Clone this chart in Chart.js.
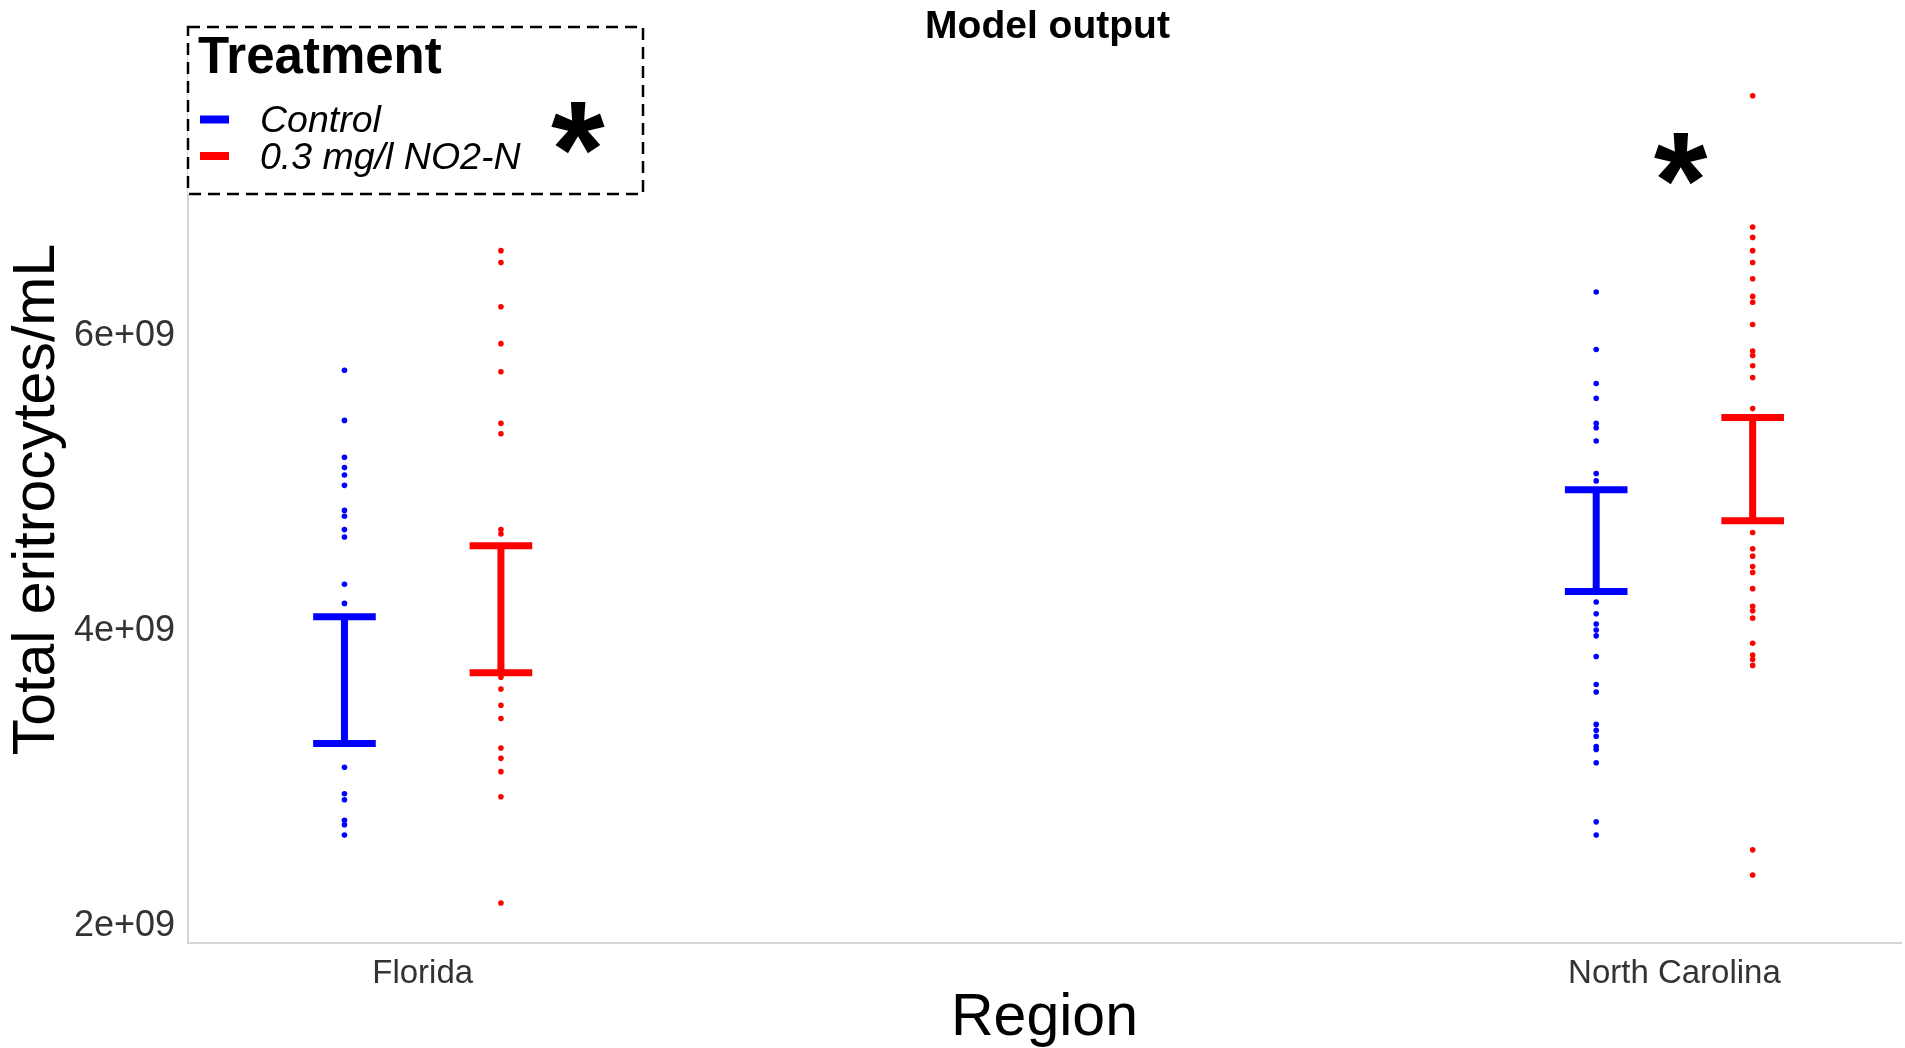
<!DOCTYPE html>
<html>
<head>
<meta charset="utf-8">
<title>Model output</title>
<script src="https://cdn.jsdelivr.net/npm/chart.js@4.4.1/dist/chart.umd.min.js"></script>
<style>
  html, body { margin: 0; padding: 0; background: #fff; }
</style>
</head>
<body>
<canvas id="chart" width="1905" height="1048"></canvas>
<script>
// ── Data ────────────────────────────────────────────
const chartTitle = 'Model output';
const legendTitle = 'Treatment';
const regions = ['Florida', 'North Carolina'];
const regionPos = [1, 2];
const treatments = ['Control', '0.3 mg/l NO2-N'];
const treatmentColors = ['#0000ff', '#ff0000'];

const yTickValues = [2e9, 4e9, 6e9];
const yTickLabels = ['2e+09', '4e+09', '6e+09'];

// raw observations (cells/mL)
const floridaControl = [5.74e9, 5.40e9, 5.15e9, 5.08e9, 5.03e9, 4.96e9, 4.79e9, 4.75e9, 4.66e9,
  4.61e9, 4.29e9, 4.16e9, 3.05e9, 2.87e9, 2.83e9, 2.69e9, 2.66e9, 2.59e9];
const floridaNo2 = [6.55e9, 6.47e9, 6.17e9, 5.92e9, 5.73e9, 5.38e9, 5.31e9, 4.66e9, 4.63e9,
  3.66e9, 3.58e9, 3.47e9, 3.38e9, 3.18e9, 3.11e9, 3.02e9, 2.85e9, 2.13e9];
const ncControl = [6.27e9, 5.88e9, 5.65e9, 5.55e9, 5.38e9, 5.35e9, 5.26e9, 5.04e9, 4.99e9,
  4.17e9, 4.09e9, 4.02e9, 3.98e9, 3.94e9, 3.80e9, 3.61e9, 3.56e9, 3.34e9, 3.30e9, 3.26e9,
  3.19e9, 3.17e9, 3.08e9, 2.68e9, 2.59e9];
const ncNo2 = [7.60e9, 6.71e9, 6.64e9, 6.55e9, 6.47e9, 6.36e9, 6.24e9, 6.20e9, 6.05e9, 5.87e9,
  5.84e9, 5.77e9, 5.69e9, 5.48e9, 4.64e9, 4.53e9, 4.48e9, 4.41e9, 4.37e9, 4.26e9, 4.14e9,
  4.11e9, 4.06e9, 3.89e9, 3.81e9, 3.78e9, 3.74e9, 2.49e9, 2.32e9];

// model output intervals, per region [Florida, North Carolina]
const controlLow = [3.21e9, 4.24e9];
const controlHigh = [4.07e9, 4.93e9];
const no2Low = [3.69e9, 4.72e9];
const no2High = [4.55e9, 5.42e9];

// significance marks
const starX = [1.124, 2.005];
const starY = [7.38e9, 7.17e9];

// ── Helpers ─────────────────────────────────────────
const FONT = '"Liberation Sans", Arial, Helvetica, sans-serif';
const dodge = [-0.0625, 0.0625];
const capHalf = 0.025;

function pointsFor(seriesByRegion, t) {
  const out = [];
  seriesByRegion.forEach((vals, r) => {
    vals.forEach(v => out.push({ x: regionPos[r] + dodge[t], y: v }));
  });
  return out;
}

function errorBarsFor(low, high, t) {
  const out = [];
  regionPos.forEach((c, r) => {
    const x = c + dodge[t];
    out.push({ x: x - capHalf, y: high[r] }, { x: x + capHalf, y: high[r] }, { x: x, y: null });
    out.push({ x: x, y: high[r] }, { x: x, y: low[r] }, { x: x, y: null });
    out.push({ x: x - capHalf, y: low[r] }, { x: x + capHalf, y: low[r] }, { x: x, y: null });
  });
  return out;
}

// ── Title, legend and asterisks ─────────────────────
const overlayPlugin = {
  id: 'overlay',
  afterDraw(chart) {
    const { ctx, chartArea, scales } = chart;
    ctx.save();

    // title
    ctx.fillStyle = '#000';
    ctx.font = 'bold 39px ' + FONT;
    ctx.textAlign = 'center';
    ctx.textBaseline = 'alphabetic';
    ctx.fillText(chartTitle, (chartArea.left + chartArea.right) / 2 + 3, 38);

    // legend box
    const bx = chartArea.left, by = 27, bw = 455, bh = 167;
    ctx.fillStyle = '#fff';
    ctx.fillRect(bx, by, bw, bh);
    ctx.setLineDash([12, 7]);
    ctx.lineWidth = 2.5;
    ctx.strokeStyle = '#000';
    ctx.strokeRect(bx, by, bw, bh);
    ctx.setLineDash([]);

    ctx.textAlign = 'left';
    ctx.fillStyle = '#000';
    ctx.font = 'bold 51px ' + FONT;
    ctx.fillText(legendTitle, bx + 10, by + 46);

    const rowY = [119.5, 156];
    treatments.forEach((name, i) => {
      ctx.strokeStyle = treatmentColors[i];
      ctx.lineWidth = 8;
      ctx.beginPath();
      ctx.moveTo(bx + 12, rowY[i]);
      ctx.lineTo(bx + 41, rowY[i]);
      ctx.stroke();
      ctx.fillStyle = '#000';
      ctx.font = 'italic 37.5px ' + FONT;
      ctx.fillText(name, bx + 72, rowY[i] + 12.5);
    });

    // asterisks, centred on their data position
    ctx.font = 'bold 138px ' + FONT;
    ctx.fillStyle = '#000';
    ctx.textAlign = 'left';
    ctx.textBaseline = 'alphabetic';
    const m = ctx.measureText('*');
    starX.forEach((sx, i) => {
      const cx = scales.x.getPixelForValue(sx);
      const cy = scales.y.getPixelForValue(starY[i]);
      const x0 = cx - (m.actualBoundingBoxRight - m.actualBoundingBoxLeft) / 2;
      const y0 = cy - (m.actualBoundingBoxDescent - m.actualBoundingBoxAscent) / 2;
      ctx.fillText('*', x0, y0);
    });

    ctx.restore();
  }
};

// ── Chart ───────────────────────────────────────────
const ctx = document.getElementById('chart').getContext('2d');

new Chart(ctx, {
  type: 'scatter',
  data: {
    datasets: [
      {
        type: 'line',
        label: treatments[0] + ' interval',
        data: errorBarsFor(controlLow, controlHigh, 0),
        borderColor: treatmentColors[0],
        borderWidth: 7,
        borderCapStyle: 'butt',
        pointRadius: 0,
        spanGaps: false,
        tension: 0,
        order: 0,
      },
      {
        type: 'line',
        label: treatments[1] + ' interval',
        data: errorBarsFor(no2Low, no2High, 1),
        borderColor: treatmentColors[1],
        borderWidth: 7,
        borderCapStyle: 'butt',
        pointRadius: 0,
        spanGaps: false,
        tension: 0,
        order: 0,
      },
      {
        label: treatments[0],
        data: pointsFor([floridaControl, ncControl], 0),
        backgroundColor: treatmentColors[0],
        borderWidth: 0,
        pointRadius: 2.8,
        order: 1,
      },
      {
        label: treatments[1],
        data: pointsFor([floridaNo2, ncNo2], 1),
        backgroundColor: treatmentColors[1],
        borderWidth: 0,
        pointRadius: 2.8,
        order: 1,
      },
    ],
  },
  options: {
    responsive: false,
    animation: false,
    devicePixelRatio: 1,
    layout: { padding: { top: 56, right: 0, bottom: 0, left: 0 } },
    plugins: {
      legend: { display: false },
      title: { display: false },
      tooltip: { enabled: false },
    },
    scales: {
      x: {
        type: 'linear',
        min: 0.8125,
        max: 2.181,
        grid: { display: false, drawTicks: false },
        border: { display: true, color: '#d6d6d6', width: 2 },
        afterFit: s => { s.height = 105; },
        afterBuildTicks: s => { s.ticks = regionPos.map(v => ({ value: v })); },
        ticks: {
          color: '#333333',
          padding: 11,
          font: { family: FONT, size: 33 },
          callback: v => regions[regionPos.indexOf(v)],
        },
        title: {
          display: true,
          text: 'Region',
          color: '#000',
          padding: 0,
          font: { family: FONT, size: 59, lineHeight: 1.0 },
        },
      },
      y: {
        min: 1.859e9,
        max: 7.869e9,
        grid: { display: false, drawTicks: false },
        border: { display: true, color: '#d6d6d6', width: 2 },
        afterFit: s => { s.width = 188; },
        afterBuildTicks: s => { s.ticks = yTickValues.map(v => ({ value: v })); },
        ticks: {
          color: '#333333',
          padding: 13,
          labelOffset: 4,
          font: { family: FONT, size: 36 },
          callback: v => yTickLabels[yTickValues.indexOf(v)],
        },
        title: {
          display: true,
          text: 'Total eritrocytes/mL',
          color: '#000',
          padding: { top: 2, bottom: 0 },
          font: { family: FONT, size: 59, lineHeight: 1.2 },
        },
      },
    },
  },
  plugins: [overlayPlugin],
});
</script>
</body>
</html>
